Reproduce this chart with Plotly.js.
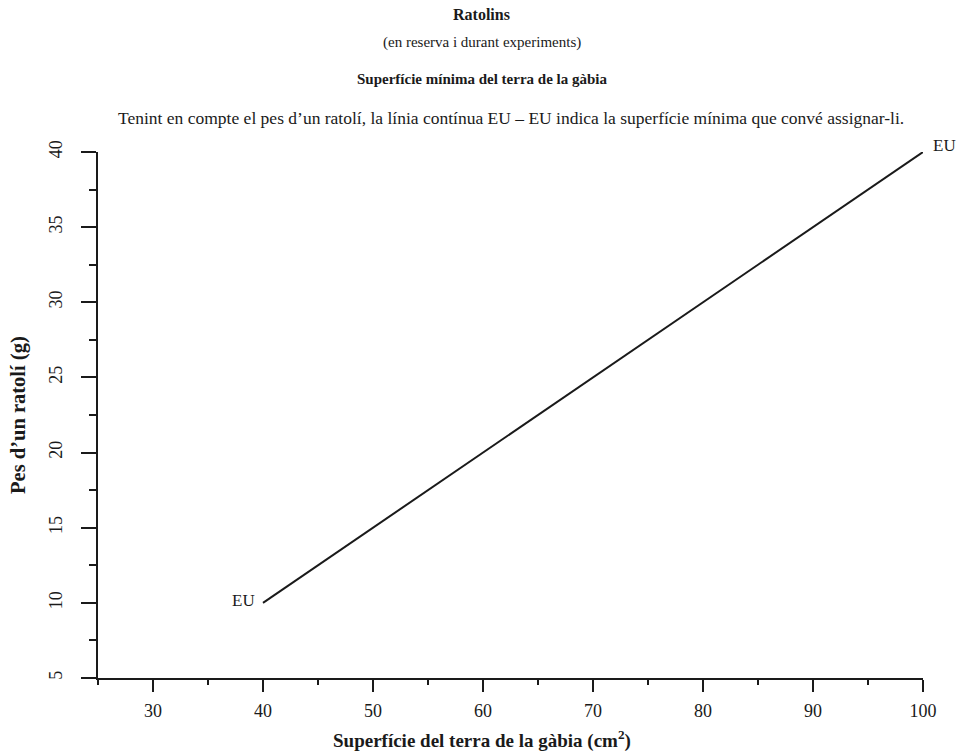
<!DOCTYPE html>
<html>
<head>
<meta charset="utf-8">
<script src="https://cdn.plot.ly/plotly-3.0.1.min.js"></script>
<style>html,body{margin:0;padding:0;background:#fff;}#chart{width:962px;height:751px;}</style>
</head>
<body>
<div id="chart"></div>
<script>
const surface = [40, 100];
const weight = [10, 40];
const endLabels = ["EU", "EU"];
const xTickVals = [30, 40, 50, 60, 70, 80, 90, 100];
const yTickVals = [5, 10, 15, 20, 25, 30, 35, 40];
const titleMain = "Ratolins";
const titleSub = "(en reserva i durant experiments)";
const titleSection = "Superfície mínima del terra de la gàbia";
const description = "Tenint en compte el pes d\u2019un ratolí, la línia contínua EU \u2013 EU indica la superfície mínima que convé assignar-li.";
const xTitle = "Superfície del terra de la gàbia (cm<sup>2</sup>)";
const yTitle = "Pes d\u2019un ratolí (g)";

const FONT = "Liberation Serif";
const plotTop = 152, plotBottom = 678, plotH = plotBottom - plotTop;
function py(pix){ return (plotBottom - pix) / plotH; }

const trace = {
  x: surface, y: weight, type: 'scatter', mode: 'lines',
  line: {color: '#1a1a1a', width: 2}, cliponaxis: false, showlegend: false, hoverinfo: 'skip'
};

const annotations = [
  {text: '<b>' + titleMain + '</b>', x: 0.465, y: py(15), font: {size: 16}},
  {text: titleSub, x: 0.465, y: py(43), font: {size: 15}},
  {text: '<b>' + titleSection + '</b>', x: 0.465, y: py(79), font: {size: 15}},
  {text: description, x: 0.5, y: py(118), font: {size: 17.5}},
  {text: '<b>' + xTitle + '</b>', x: 0.465, y: py(739), font: {size: 19}},
  {text: '<b>' + yTitle + '</b>', x: -0.097, y: 0.5, textangle: -90, font: {size: 20.5}},
].map(a => Object.assign({xref: 'paper', yref: 'paper', showarrow: false, xanchor: 'center', yanchor: 'middle'}, a));

annotations.push({x: surface[0], y: weight[0], xref: 'x', yref: 'y', text: endLabels[0], showarrow: false,
  xanchor: 'right', yanchor: 'middle', xshift: -6, yshift: 2, font: {size: 17}});
annotations.push({x: surface[1], y: weight[1], xref: 'x', yref: 'y', text: endLabels[1], showarrow: false,
  xanchor: 'left', yanchor: 'middle', xshift: 8, yshift: 7, font: {size: 17}});

const layout = {
  width: 962, height: 751,
  margin: {l: 98, r: 39, t: plotTop, b: 751 - plotBottom, pad: 0},
  paper_bgcolor: '#fff', plot_bgcolor: '#fff',
  font: {family: FONT, color: '#1a1a1a', size: 16},
  showlegend: false,
  xaxis: {
    range: [25, 100], tickvals: xTickVals, ticks: 'outside', ticklen: 12, tickwidth: 2, tickcolor: '#1a1a1a',
    showline: true, linecolor: '#1a1a1a', linewidth: 2, showgrid: false, zeroline: false,
    ticklabelstandoff: 3, tickfont: {family: FONT, size: 18},
    minor: {dtick: 5, tick0: 0, ticks: 'outside', ticklen: 5, tickwidth: 2, tickcolor: '#1a1a1a', showgrid: false}
  },
  yaxis: {
    range: [5, 40], tickvals: yTickVals, ticks: 'outside', ticklen: 15, tickwidth: 2, tickcolor: '#1a1a1a',
    showline: true, linecolor: '#1a1a1a', linewidth: 2, showgrid: false, zeroline: false,
    tickangle: -90, ticklabelstandoff: 12, tickfont: {family: FONT, size: 18},
    minor: {dtick: 2.5, tick0: 0, ticks: 'outside', ticklen: 7, tickwidth: 2, tickcolor: '#1a1a1a', showgrid: false}
  },
  annotations: annotations
};

Plotly.newPlot('chart', [trace], layout, {staticPlot: true, displayModeBar: false});
</script>
</body>
</html>
